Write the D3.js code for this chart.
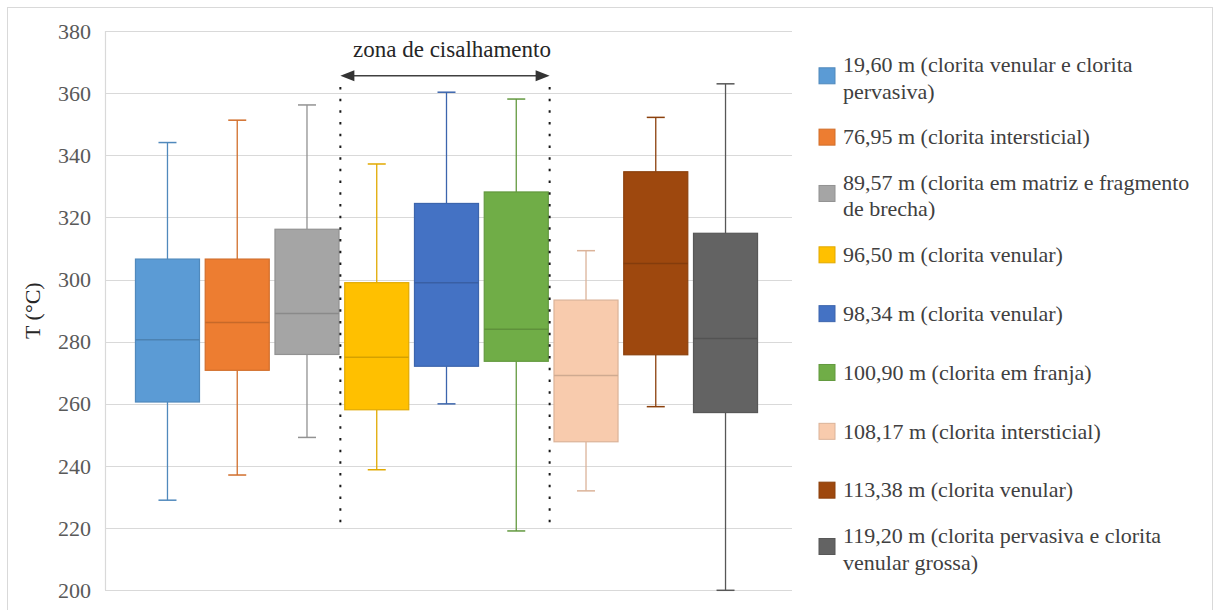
<!DOCTYPE html>
<html>
<head>
<meta charset="utf-8">
<script src="https://cdn.jsdelivr.net/npm/d3@7"></script>
<style>
  html, body { margin: 0; padding: 0; background: #fff; }
  svg { display: block; }
  text { font-family: "Liberation Serif", "Times New Roman", serif; }
</style>
</head>
<body>
<svg id="chart" width="1214" height="610"></svg>
<script>
// Sample depths (series) and their legend labels
const series = ["19,60 m", "76,95 m", "89,57 m", "96,50 m", "98,34 m", "100,90 m", "108,17 m", "113,38 m", "119,20 m"];
const legendLabels = [
  "19,60 m (clorita venular e clorita pervasiva)",
  "76,95 m (clorita intersticial)",
  "89,57 m (clorita em matriz e fragmento de brecha)",
  "96,50 m (clorita venular)",
  "98,34 m (clorita venular)",
  "100,90 m (clorita em franja)",
  "108,17 m (clorita intersticial)",
  "113,38 m (clorita venular)",
  "119,20 m (clorita pervasiva e clorita venular grossa)"
];
const colors = ["#5B9BD5", "#ED7D31", "#A5A5A5", "#FFC000", "#4472C4", "#70AD47", "#F8CBAD", "#9E480E", "#636363"];

// Box-and-whisker statistics (temperature, °C)
const minVals    = [229.0, 237.1, 249.2, 238.8, 260.0, 219.1, 232.0, 259.1, 200.0];
const q1Vals     = [260.6, 270.8, 275.9, 258.1, 272.1, 273.7, 247.8, 275.8, 257.2];
const medianVals = [280.6, 286.2, 289.1, 275.0, 299.0, 284.0, 269.1, 305.2, 281.0];
const q3Vals     = [306.6, 306.6, 316.2, 299.0, 324.5, 328.2, 293.4, 334.7, 314.9];
const maxVals    = [344.1, 351.3, 356.2, 337.2, 360.3, 358.1, 309.3, 352.2, 363.0];

// Y axis ticks
const yTicks = [200, 220, 240, 260, 280, 300, 320, 340, 360, 380];

// Shear zone annotation: first and last sample inside it
const shearZone = ["96,50 m", "100,90 m"];
const shearLabel = "zona de cisalhamento";

const svg = d3.select("#chart");

// Outer frame
svg.append("rect")
  .attr("x", 7.5).attr("y", 7.5)
  .attr("width", 1205).attr("height", 610)
  .attr("fill", "#fff").attr("stroke", "#d9d9d9").attr("stroke-width", 1);

const plot = { left: 105, right: 792, top: 31, bottom: 590.3 };

const y = d3.scaleLinear().domain([200, 380]).range([plot.bottom, plot.top]);
const x = d3.scaleBand().domain(series).range([132.6, 760.4]).paddingInner(0.082).paddingOuter(0.041);

// Horizontal gridlines
svg.append("g").selectAll("line").data(yTicks).join("line")
  .attr("x1", plot.left).attr("x2", plot.right)
  .attr("y1", d => Math.round(y(d)) + 0.5).attr("y2", d => Math.round(y(d)) + 0.5)
  .attr("stroke", "#d9d9d9").attr("stroke-width", 1.2);

// Left edge of plot area
svg.append("line")
  .attr("x1", plot.left + 0.5).attr("x2", plot.left + 0.5)
  .attr("y1", y(380)).attr("y2", y(200))
  .attr("stroke", "#d9d9d9").attr("stroke-width", 1.2);

// Y axis tick labels
const yAxis = d3.axisLeft(y).tickValues(yTicks).tickSize(0).tickPadding(14);
const gy = svg.append("g").attr("transform", `translate(${plot.left},0)`).call(yAxis);
gy.select(".domain").remove();
gy.selectAll("text")
  .attr("font-family", "Liberation Serif, serif")
  .attr("font-size", 22)
  .attr("fill", "#595959");

// Axis title
svg.append("text")
  .attr("transform", `translate(40,${(plot.top + plot.bottom) / 2}) rotate(-90)`)
  .attr("text-anchor", "middle")
  .attr("font-size", 22)
  .attr("fill", "#262626")
  .text("T (°C)");

// Boxes and whiskers
const capW = 18;
const boxes = svg.append("g").selectAll("g").data(series).join("g");
boxes.each(function (s, i) {
  const g = d3.select(this);
  const c = colors[i];
  const line = d3.color(c).darker(0.35).formatHex();
  const cx = x(s) + x.bandwidth() / 2;
  // whiskers
  g.append("line").attr("x1", cx).attr("x2", cx).attr("y1", y(maxVals[i])).attr("y2", y(q3Vals[i]))
    .attr("stroke", line).attr("stroke-width", 1.3);
  g.append("line").attr("x1", cx).attr("x2", cx).attr("y1", y(q1Vals[i])).attr("y2", y(minVals[i]))
    .attr("stroke", line).attr("stroke-width", 1.3);
  g.append("line").attr("x1", cx - capW / 2).attr("x2", cx + capW / 2).attr("y1", y(maxVals[i])).attr("y2", y(maxVals[i]))
    .attr("stroke", line).attr("stroke-width", 1.5);
  g.append("line").attr("x1", cx - capW / 2).attr("x2", cx + capW / 2).attr("y1", y(minVals[i])).attr("y2", y(minVals[i]))
    .attr("stroke", line).attr("stroke-width", 1.5);
  // box
  g.append("rect")
    .attr("x", x(s)).attr("width", x.bandwidth())
    .attr("y", y(q3Vals[i])).attr("height", y(q1Vals[i]) - y(q3Vals[i]))
    .attr("fill", c).attr("stroke", line).attr("stroke-width", 1.2);
  // median
  g.append("line")
    .attr("x1", x(s)).attr("x2", x(s) + x.bandwidth())
    .attr("y1", y(medianVals[i])).attr("y2", y(medianVals[i]))
    .attr("stroke", d3.color(c).darker(0.5).formatHex()).attr("stroke-width", 1.5);
});

// Shear zone annotation
const gap = x.step() - x.bandwidth();
const zx1 = x(shearZone[0]) - gap / 2 - 1.5;
const zx2 = x(shearZone[1]) + x.bandwidth() + gap / 2 - 1.5;
const zone = svg.append("g");
[zx1, zx2].forEach(zx => {
  zone.append("line")
    .attr("x1", zx).attr("x2", zx)
    .attr("y1", y(362)).attr("y2", y(219.5))
    .attr("stroke", "#1a1a1a").attr("stroke-width", 2)
    .attr("stroke-dasharray", "2.5,9.2");
});
const ay = y(365.6);
const head = 14, headH = 5.5;
zone.append("line")
  .attr("x1", zx1 + head - 2).attr("x2", zx2 - head + 2)
  .attr("y1", ay).attr("y2", ay)
  .attr("stroke", "#404040").attr("stroke-width", 1.5);
zone.append("path")
  .attr("d", `M${zx1},${ay} L${zx1 + head},${ay - headH} L${zx1 + head},${ay + headH} Z`)
  .attr("fill", "#333");
zone.append("path")
  .attr("d", `M${zx2},${ay} L${zx2 - head},${ay - headH} L${zx2 - head},${ay + headH} Z`)
  .attr("fill", "#333");
zone.append("text")
  .attr("x", (zx1 + zx2) / 2 + 7).attr("y", ay - 19)
  .attr("text-anchor", "middle")
  .attr("font-size", 23)
  .attr("fill", "#262626")
  .text(shearLabel);

// Legend
const legY = d3.scalePoint().domain(series).range([78.3, 549]);
const legX = 819, textX = 843, maxW = 355, lineH = 26.5;
const legend = svg.append("g").selectAll("g").data(series).join("g");
legend.each(function (s, i) {
  const g = d3.select(this);
  const cy = legY(s);
  const t = g.append("text").attr("x", textX).attr("font-size", 22).attr("fill", "#404040");
  // wrap label to the available width
  const words = legendLabels[i].split(" ");
  const lines = [];
  let cur = [];
  const probe = t.append("tspan");
  words.forEach(w => {
    const test = cur.concat([w]).join(" ");
    probe.text(test);
    if (probe.node().getComputedTextLength() > maxW && cur.length) {
      lines.push(cur.join(" "));
      cur = [w];
    } else {
      cur.push(w);
    }
  });
  lines.push(cur.join(" "));
  probe.remove();
  const y0 = cy - (lines.length - 1) * lineH / 2;
  lines.forEach((ln, k) => {
    t.append("tspan").attr("x", textX).attr("y", y0 + k * lineH).attr("dy", "0.33em").text(ln);
  });
  const sq = 16;
  const sqC = lines.length > 1 ? cy - 2.5 : cy;
  g.append("rect")
    .attr("x", legX).attr("y", sqC - sq / 2).attr("width", sq).attr("height", sq)
    .attr("fill", colors[i]).attr("stroke", d3.color(colors[i]).darker(0.35).formatHex()).attr("stroke-width", 1);
});
</script>
</body>
</html>
